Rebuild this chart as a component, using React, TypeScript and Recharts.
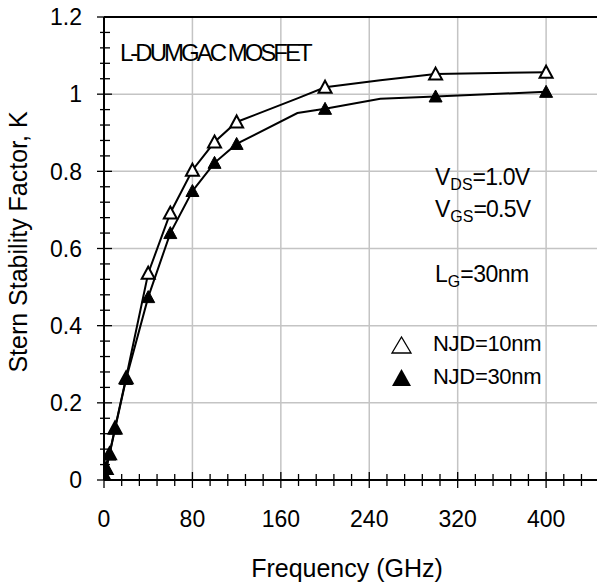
import React from 'react'
import { ComposedChart, Line, Scatter, XAxis, YAxis, ReferenceLine } from 'recharts'

// frequencies (GHz) of the curve points, K values
const freq = [0, 1, 2, 5, 10, 20, 40, 60, 80, 100, 120, 175, 200, 250, 300, 400]
const kNjd10 = [0, 0.008, 0.03, 0.068, 0.135, 0.265, 0.536, 0.692, 0.803, 0.876, 0.928, 0.989, 1.018, 1.036, 1.052, 1.057]
const kNjd30 = [0, 0.008, 0.03, 0.066, 0.133, 0.262, 0.474, 0.64, 0.749, 0.822, 0.871, 0.951, 0.962, 0.988, 0.994, 1.006]
// points that carry a marker
const markerFreq = [0, 1, 2, 5, 10, 20, 40, 60, 80, 100, 120, 200, 300, 400]

const xMajor = [0, 80, 160, 240, 320, 400]
const xMinorStep = 16
const yMajor = [0, 0.2, 0.4, 0.6, 0.8, 1, 1.2]
const yMinorStep = 0.04

const FONT = '"Liberation Sans", Arial, sans-serif'

const toRows = (ks: number[]) => freq.map((f, i) => ({ f, k: ks[i] }))
const curve10 = toRows(kNjd10)
const curve30 = toRows(kNjd30)
const marks10 = curve10.filter(p => markerFreq.includes(p.f))
const marks30 = curve30.filter(p => markerFreq.includes(p.f))

const xTicks = Array.from({ length: 29 }, (_, i) => i * xMinorStep)
const yTicks = Array.from({ length: 31 }, (_, i) => Math.round(i * yMinorStep * 100) / 100)

function XTick({ x, y, payload }: any) {
  const major = xMajor.includes(payload.value)
  const h = major ? 8 : 6
  return (
    <g>
      <line x1={x} x2={x} y1={y - h} y2={y + h} stroke="#000" strokeWidth={1.3} />
      {major && (
        <text x={x} y={y + 47} textAnchor="middle" fontSize={23} fontFamily={FONT} fill="#000">
          {payload.value}
        </text>
      )}
    </g>
  )
}

function YTick({ x, y, payload }: any) {
  const major = yMajor.some(v => Math.abs(v - payload.value) < 1e-6)
  return (
    <g>
      <line x1={x - (major ? 7 : 4)} x2={x + (major ? 8 : 6)} y1={y} y2={y} stroke="#000" strokeWidth={1.3} />
      {major && (
        <text x={x - 22} y={y} dy="0.36em" textAnchor="end" fontSize={23} fontFamily={FONT} fill="#000">
          {String(payload.value)}
        </text>
      )}
    </g>
  )
}

function Tri({ cx, cy, filled }: { cx: number; cy: number; filled: boolean }) {
  const pts = `${cx},${cy - 6.5} ${cx + 6.5},${cy + 5.5} ${cx - 6.5},${cy + 5.5}`
  return (
    <polygon
      points={pts}
      fill={filled ? '#000' : '#fff'}
      stroke="#000"
      strokeWidth={filled ? 1 : 2}
      strokeLinejoin="miter"
    />
  )
}

export default function App() {
  return (
    <div style={{ position: 'absolute', left: 0, top: 0, width: 597, height: 586, overflow: 'hidden', background: '#fff' }}>
      <ComposedChart width={620} height={586} margin={{ top: 17, right: 12, bottom: 76, left: 0 }}>
        {xMajor.slice(1).map(v => (
          <ReferenceLine key={'gx' + v} x={v} stroke="#c4c4c4" strokeWidth={1.5} />
        ))}
        {yMajor.slice(1, -1).map(v => (
          <ReferenceLine key={'gy' + v} y={v} stroke="#c4c4c4" strokeWidth={1.5} />
        ))}
        <ReferenceLine y={1.2} stroke="#000" strokeWidth={2} />
        <XAxis
          type="number"
          dataKey="f"
          domain={[0, 456]}
          ticks={xTicks}
          interval={0}
          tickSize={0}
          tickMargin={0}
          tickLine={false}
          axisLine={{ stroke: '#000', strokeWidth: 2 }}
          tick={<XTick />}
          height={30}
          allowDataOverflow
        />
        <YAxis
          type="number"
          dataKey="k"
          domain={[0, 1.2]}
          ticks={yTicks}
          interval={0}
          tickSize={0}
          tickMargin={0}
          tickLine={false}
          axisLine={{ stroke: '#000', strokeWidth: 2 }}
          tick={<YTick />}
          width={104}
          allowDataOverflow
        />
        <Line data={curve10} dataKey="k" type="linear" stroke="#000" strokeWidth={2} dot={false} isAnimationActive={false} legendType="none" />
        <Line data={curve30} dataKey="k" type="linear" stroke="#000" strokeWidth={2} dot={false} isAnimationActive={false} legendType="none" />
        <Scatter data={marks10} dataKey="k" isAnimationActive={false} shape={(p: any) => <Tri cx={p.cx} cy={p.cy} filled={false} />} />
        <Scatter data={marks30} dataKey="k" isAnimationActive={false} shape={(p: any) => <Tri cx={p.cx} cy={p.cy} filled={true} />} />
      </ComposedChart>
      <svg
        width={597}
        height={586}
        style={{ position: 'absolute', left: 0, top: 0, pointerEvents: 'none' }}
        fontFamily={FONT}
        fill="#000"
      >
        <text x={120} y={61} fontSize={24} letterSpacing={-3}>L-DUMGAC MOSFET</text>
        <text x={435} y={185} fontSize={23}>
          V<tspan fontSize={16} dy={5}>DS</tspan><tspan dy={-5} letterSpacing={-0.8}>=1.0V</tspan>
        </text>
        <text x={435} y={217} fontSize={23}>
          V<tspan fontSize={16} dy={5}>GS</tspan><tspan dy={-5} letterSpacing={-0.8}>=0.5V</tspan>
        </text>
        <text x={435} y={282} fontSize={23}>
          L<tspan fontSize={16} dy={5}>G</tspan><tspan dy={-5} letterSpacing={-0.5}>=30nm</tspan>
        </text>
        <polygon points="392,353 401.5,337 411,353" fill="#fff" stroke="#000" strokeWidth={1.3} />
        <text x={433} y={351} fontSize={22} letterSpacing={-0.3}>NJD=10nm</text>
        <polygon points="392,386 401.5,369 411,386" fill="#000" />
        <text x={433} y={384} fontSize={22} letterSpacing={-0.3}>NJD=30nm</text>
        <text transform="translate(27,242) rotate(-90)" textAnchor="middle" fontSize={25}>
          Stern Stability Factor, K
        </text>
        <text x={347} y={577} textAnchor="middle" fontSize={25}>Frequency (GHz)</text>
      </svg>
    </div>
  )
}
